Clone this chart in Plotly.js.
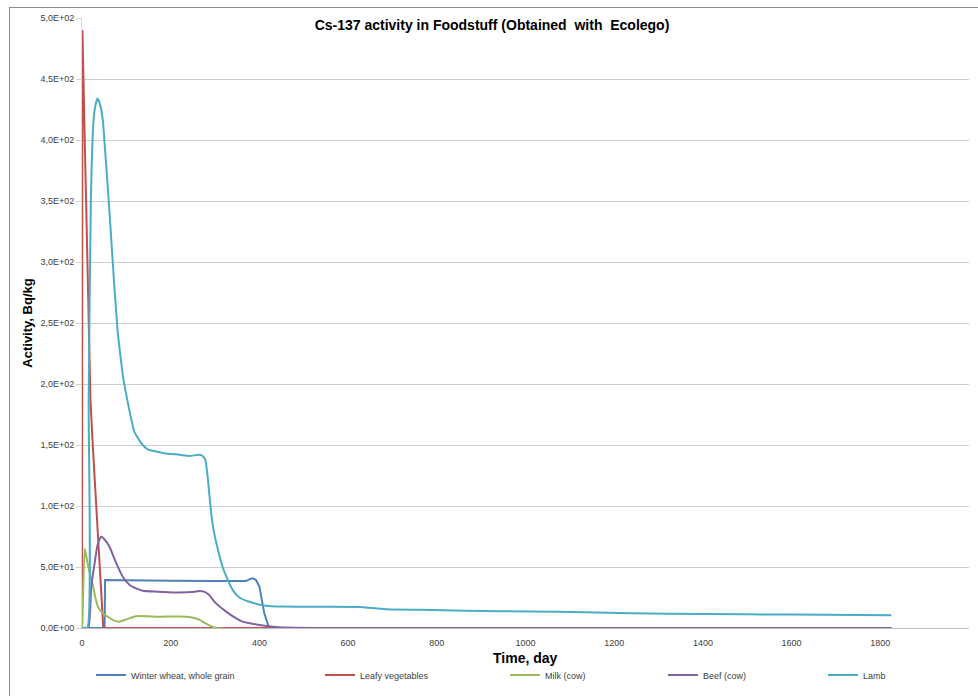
<!DOCTYPE html>
<html>
<head>
<meta charset="utf-8">
<script src="https://cdn.plot.ly/plotly-3.0.1.min.js"></script>
<style>
  html, body { margin: 0; padding: 0; background: #ffffff; }
  #wrap { position: relative; width: 978px; height: 696px; overflow: hidden; }
  #chart { position: absolute; left: 0; top: 0; width: 978px; height: 696px; }
  #frame { position: absolute; left: 9px; top: 7px; width: 990px; height: 720px;
           border-left: 1px solid #8c8c8c; border-top: 1px solid #8c8c8c; pointer-events: none; }
</style>
</head>
<body>
<div id="wrap">
  <div id="chart"></div>
  <div id="frame"></div>
</div>
<script>
// ---- data ----
const seriesNames = ["Winter wheat, whole grain", "Leafy vegetables", "Milk (cow)", "Beef (cow)", "Lamb"];

const wheatDays   = [0, 51, 52, 100, 200, 300, 370, 378, 385, 392, 400, 411, 422, 1825];
const wheatValues = [0, 0, 39.3, 39.0, 38.8, 38.6, 38.5, 40.0, 40.7, 39.5, 34, 12, 0, 0];

const leafyDays   = [0, 1, 5, 10, 15, 19, 25, 30, 35, 40, 45, 48, 1825];
const leafyValues = [0, 490, 420, 334, 253, 187, 145, 112, 78, 48, 18, 0, 0];

const milkDays   = [0, 1, 6, 10, 15, 21, 24, 30, 36, 47, 58, 70, 84, 100, 115, 130, 175, 235, 255, 265, 280, 302, 1825];
const milkValues = [0, 5, 65, 58, 49, 40, 36, 25, 17.5, 12, 9.3, 6.5, 5.2, 7, 9, 9.8, 9.3, 9.3, 8, 6.6, 3.5, 0, 0];

const beefDays   = [0, 14, 21, 28, 35, 43, 50, 62, 75, 92, 108, 122, 137, 170, 212, 250, 265, 275, 287, 300, 325, 345, 362, 400, 437, 480, 550, 1825];
const beefValues = [0, 0, 34, 52, 68, 74.9, 73, 66.6, 55, 42, 35, 32.5, 30.6, 29.8, 29.2, 29.5, 30.3, 29.8, 27, 21, 13.4, 8.5, 5.2, 2.5, 0.8, 0.2, 0, 0];

const lambDays   = [0, 12, 15, 20, 26, 30, 35, 40, 47, 52, 58, 64, 72, 80, 86, 93, 101, 110, 118, 129, 137, 150, 163, 190, 220, 242, 265, 272, 278, 283, 287, 292, 298, 308, 317, 328, 340, 355, 377, 415, 450, 490, 550, 625, 685, 790, 940, 1075, 1240, 1400, 1600, 1825];
const lambValues = [0, 0, 187, 351, 416, 428, 434, 430, 416, 392, 362, 330, 285, 245, 225, 205, 189, 173, 161, 154, 150, 146, 145, 143, 142, 141, 142, 141, 138, 125, 110, 92, 78, 62, 50, 40, 31, 25, 21.5, 18.3, 17.6, 17.5, 17.5, 17.3, 15.3, 14.8, 13.7, 13.4, 12, 11.5, 11, 10.5];

const xTickVals = [0, 200, 400, 600, 800, 1000, 1200, 1400, 1600, 1800, 2000];
const yTickVals = [0, 50, 100, 150, 200, 250, 300, 350, 400, 450, 500];
const yTickText = ["0,0E+00", "5,0E+01", "1,0E+02", "1,5E+02", "2,0E+02", "2,5E+02", "3,0E+02", "3,5E+02", "4,0E+02", "4,5E+02", "5,0E+02"];

// ---- styling ----
const colors = ["#4F81BD", "#C0504D", "#9BBB59", "#8064A2", "#4BACC6"];
const shapes = ["linear", "linear", "spline", "spline", "spline"];
const legendTextLeft = [133, 362, 547, 705, 865]; // px positions of legend text
const W = 978, H = 696;
const plotTop = 18, plotBottom = 628;

const xs = [wheatDays, leafyDays, milkDays, beefDays, lambDays];
const ys = [wheatValues, leafyValues, milkValues, beefValues, lambValues];
const legendIds = ["legend", "legend2", "legend3", "legend4", "legend5"];

const traces = seriesNames.map((name, i) => ({
  type: "scatter",
  mode: "lines",
  name: name,
  x: xs[i],
  y: ys[i],
  line: { color: colors[i], width: 2, shape: shapes[i], smoothing: 0.5 },
  legend: legendIds[i],
  hoverinfo: "x+y+name"
}));

const legendFont = { family: "Liberation Sans, Arial, sans-serif", size: 9, color: "#404040" };

const layout = {
  width: W,
  height: H,
  margin: { l: 82, r: 9, t: plotTop, b: H - plotBottom },
  paper_bgcolor: "rgba(0,0,0,0)",
  plot_bgcolor: "#ffffff",
  font: { family: "Liberation Sans, Arial, sans-serif", size: 9, color: "#404040" },
  title: {
    text: "<b>Cs-137 activity in Foodstuff (Obtained\u00a0 with\u00a0 Ecolego)</b>",
    font: { family: "Liberation Sans, Arial, sans-serif", size: 14, color: "#000000" },
    x: 492 / W, xref: "container", xanchor: "center",
    y: 1 - 25 / H, yref: "container", yanchor: "middle"
  },
  xaxis: {
    range: [0, 2000],
    tickvals: xTickVals,
    ticktext: xTickVals.map(String),
    showgrid: false,
    zeroline: false,
    showline: true,
    linecolor: "#bfbfbf",
    linewidth: 1,
    ticks: "outside",
    ticklen: 6,
    tickcolor: "rgba(0,0,0,0)",
    tickfont: { size: 9, color: "#404040" }
  },
  yaxis: {
    range: [0, 500],
    tickvals: yTickVals,
    ticktext: yTickText,
    showgrid: true,
    gridcolor: "#cfcfcf",
    gridwidth: 1,
    zeroline: false,
    showline: true,
    linecolor: "#d9d9d9",
    linewidth: 1,
    ticks: "outside",
    ticklen: 5,
    tickcolor: "#d0d0d0",
    tickfont: { size: 9, color: "#404040" },
    title: {
      text: "<b>Activity, Bq/kg</b>",
      font: { family: "Liberation Sans, Arial, sans-serif", size: 13, color: "#000000" },
      standoff: 4
    }
  },
  annotations: [{
    text: "<b>Time, day</b>",
    xref: "paper", yref: "paper",
    x: 0.5, xanchor: "center",
    y: -(658 - plotBottom) / (plotBottom - plotTop), yanchor: "middle",
    showarrow: false,
    font: { family: "Liberation Sans, Arial, sans-serif", size: 14, color: "#000000" }
  }],
  showlegend: true
};

legendIds.forEach((id, i) => {
  layout[id] = {
    orientation: "h",
    xref: "container",
    yref: "container",
    x: (legendTextLeft[i] - 42) / W,
    xanchor: "left",
    y: (H - 675) / H,
    yanchor: "middle",
    bgcolor: "rgba(0,0,0,0)",
    borderwidth: 0,
    font: legendFont
  };
});

Plotly.newPlot("chart", traces, layout, { displayModeBar: false, staticPlot: true });
</script>
</body>
</html>
